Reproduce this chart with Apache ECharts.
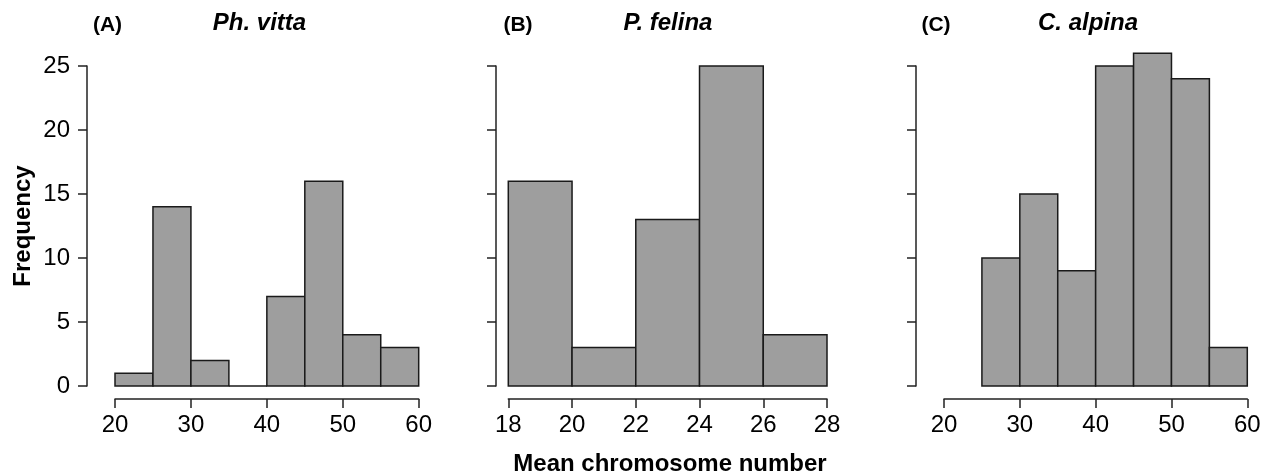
<!DOCTYPE html>
<html>
<head>
<meta charset="utf-8">
<script src="https://cdn.jsdelivr.net/npm/echarts@6/dist/echarts.min.js"></script>
<style>
  html, body { margin: 0; background: #fff; }
  #main { width: 1272px; height: 475px; }
</style>
</head>
<body>
<div id="main"></div>
<script>
// histogram bins: start of each bin and its count
var vittaStarts = [20, 25, 30, 35, 40, 45, 50, 55]
var vittaCounts = [1, 14, 2, 0, 7, 16, 4, 3]
var felinaStarts = [18, 20, 22, 24, 26]
var felinaCounts = [16, 3, 13, 25, 4]
var alpinaStarts = [25, 30, 35, 40, 45, 50, 55]
var alpinaCounts = [10, 15, 9, 25, 26, 24, 3]
var binWidths = [5, 2, 5]

var panelTags = ['(A)', '(B)', '(C)']
var panelNames = ['Ph. vitta', 'P. felina', 'C. alpina']
var xMins = [20, 18, 20]
var xMaxs = [60, 28, 60]
var xSteps = [10, 2, 10]
var freqMin = 0, freqMax = 25, freqStep = 5

var FONT = '"Liberation Sans", Arial, Helvetica, sans-serif'

function bins(starts, counts, w) {
  return starts.map(function (s, i) { return [s, s + w, counts[i]] })
}

function renderItem(params, api) {
  var p0 = api.coord([api.value(0), 0])
  var p1 = api.coord([api.value(1), api.value(2)])
  return {
    type: 'rect',
    shape: { x: p0[0], y: p1[1], width: p1[0] - p0[0], height: p0[1] - p1[1] },
    style: { fill: '#9e9e9e', stroke: '#1a1a1a', lineWidth: 1.5 }
  }
}

var grids = [
  { left: 115, top: 66, width: 303.7, height: 320 },
  { left: 508.3, top: 66, width: 318.7, height: 320 },
  { left: 944, top: 66, width: 303.3, height: 320 }
]
var yOffsets = [28, 12.3, 28]
var allBins = [
  bins(vittaStarts, vittaCounts, binWidths[0]),
  bins(felinaStarts, felinaCounts, binWidths[1]),
  bins(alpinaStarts, alpinaCounts, binWidths[2])
]

var axisLine = { show: true, onZero: false, lineStyle: { color: '#222', width: 1.5 } }
var axisTick = { show: true, length: 9, inside: false, lineStyle: { color: '#222', width: 1.5 } }

var xAxes = [], yAxes = [], series = [], graphics = []
for (var i = 0; i < 3; i++) {
  xAxes.push({
    type: 'value', gridIndex: i, min: xMins[i], max: xMaxs[i], interval: xSteps[i],
    offset: 13, axisLine: axisLine, axisTick: axisTick, splitLine: { show: false },
    axisLabel: { fontSize: 24, color: '#000', fontFamily: FONT, margin: 14, showMinLabel: true, showMaxLabel: true }
  })
  yAxes.push({
    type: 'value', gridIndex: i, min: freqMin, max: freqMax, interval: freqStep,
    offset: yOffsets[i], axisLine: axisLine, axisTick: axisTick, splitLine: { show: false },
    axisLabel: { show: i === 0, fontSize: 24, color: '#000', fontFamily: FONT, margin: 17 }
  })
  series.push({
    type: 'custom', xAxisIndex: i, yAxisIndex: i, renderItem: renderItem,
    encode: { x: [0, 1], y: 2 }, data: allBins[i], clip: false, silent: true
  })
}

var tagX = [107.5, 518, 936]
var nameX = [259.5, 668, 1088]
for (var j = 0; j < 3; j++) {
  graphics.push({
    type: 'text', x: tagX[j], y: 25,
    style: { text: panelTags[j], font: 'bold 21px ' + FONT, fill: '#000',
      align: 'center', verticalAlign: 'middle', textAlign: 'center', textVerticalAlign: 'middle' }
  })
  graphics.push({
    type: 'text', x: nameX[j], y: 23,
    style: { text: panelNames[j], font: 'italic bold 24px ' + FONT, fill: '#000',
      align: 'center', verticalAlign: 'middle', textAlign: 'center', textVerticalAlign: 'middle' }
  })
}
graphics.push({
  type: 'text', x: 23, y: 226, rotation: Math.PI / 2,
  style: { text: 'Frequency', font: 'bold 24px ' + FONT, fill: '#000',
    align: 'center', verticalAlign: 'middle', textAlign: 'center', textVerticalAlign: 'middle' }
})
graphics.push({
  type: 'text', x: 670, y: 464,
  style: { text: 'Mean chromosome number', font: 'bold 24px ' + FONT, fill: '#000',
    align: 'center', verticalAlign: 'middle', textAlign: 'center', textVerticalAlign: 'middle' }
})

var myChart = echarts.init(document.getElementById('main'))
myChart.setOption({
  animation: false,
  backgroundColor: '#fff',
  grid: grids,
  xAxis: xAxes,
  yAxis: yAxes,
  series: series,
  graphic: graphics
})
</script>
</body>
</html>
